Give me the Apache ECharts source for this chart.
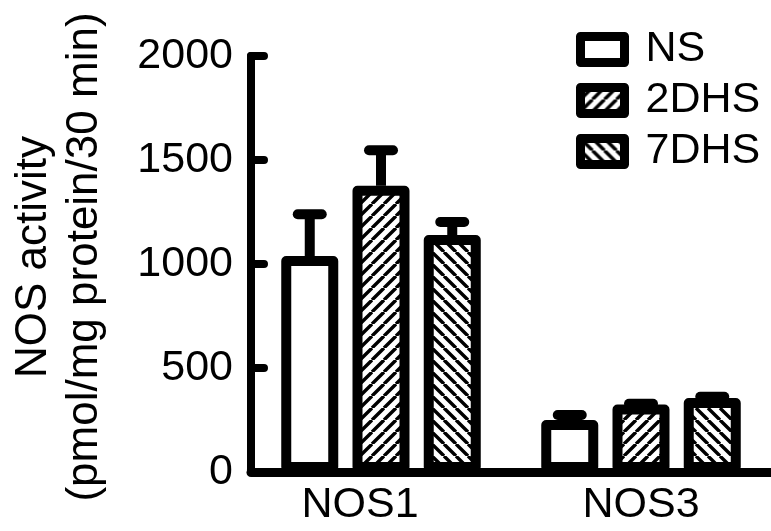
<!DOCTYPE html>
<html>
<head>
<meta charset="utf-8">
<script src="https://cdn.jsdelivr.net/npm/echarts@6/dist/echarts.min.js"></script>
<style>
html, body { margin: 0; padding: 0; background: #fff; }
#chart { width: 771px; height: 531px; }
</style>
</head>
<body>
<div id="chart"></div>
<script>
// data
const categories = ['NOS1', 'NOS3'];
const groups = ['NS', '2DHS', '7DHS'];
const nsMean = [1038, 250];
const nsErr = [201, 24];
const dhs2Mean = [1376, 324];
const dhs2Err = [171, 4];
const dhs7Mean = [1139, 356];
const dhs7Err = [63, 6];
const yTicks = [0, 500, 1000, 1500, 2000];
const yTitle = ['NOS activity', '(pmol/mg protein/30 min)'];

const FONT = 'Liberation Sans';
const BAR_W = 57;
const BAR_GAP = 0.25;
const BORDER = 10;

// hatch tile, dir 1 = "/", dir -1 = "\"
function stripes(dir) {
  const s = 12;
  const c = document.createElement('canvas');
  c.width = s;
  c.height = s;
  const g = c.getContext('2d');
  g.fillStyle = '#fff';
  g.fillRect(0, 0, s, s);
  g.strokeStyle = '#000';
  g.lineWidth = 3.4;
  g.beginPath();
  for (const o of [-s, 0, s]) {
    if (dir > 0) {
      g.moveTo(o, s);
      g.lineTo(o + s, 0);
    } else {
      g.moveTo(o, 0);
      g.lineTo(o + s, s);
    }
  }
  g.stroke();
  return { image: c, repeat: 'repeat' };
}

const fills = ['#fff', stripes(1), stripes(-1)];
const means = [nsMean, dhs2Mean, dhs7Mean];
const errs = [nsErr, dhs2Err, dhs7Err];

const barSeries = groups.map((name, i) => ({
  name: name,
  type: 'bar',
  barWidth: BAR_W,
  barGap: (BAR_GAP * 100) + '%',
  data: means[i],
  itemStyle: {
    color: fills[i],
    borderColor: '#000',
    borderWidth: BORDER,
    borderJoin: 'round'
  },
  emphasis: { disabled: true },
  z: 3
}));

const errSeries = groups.map((name, i) => ({
  type: 'custom',
  data: categories.map((c, k) => [k, means[i][k], errs[i][k]]),
  renderItem(params, api) {
    const base = api.coord([api.value(0), api.value(1)]);
    const top = api.coord([api.value(0), api.value(1) + api.value(2)]);
    const x = base[0] + (i - 1) * BAR_W * (1 + BAR_GAP);
    return {
      type: 'group',
      children: [
        { type: 'line', shape: { x1: x, y1: base[1], x2: x, y2: top[1] },
          style: { stroke: '#000', lineWidth: 10 } },
        { type: 'line', shape: { x1: x - 12, y1: top[1], x2: x + 12, y2: top[1] },
          style: { stroke: '#000', lineWidth: 10, lineCap: 'round' } }
      ]
    };
  },
  z: 2,
  silent: true
}));

const chart = echarts.init(document.getElementById('chart'));
chart.setOption({
  animation: false,
  backgroundColor: '#fff',
  grid: { left: 251, right: 0, top: 56, bottom: 59 },
  graphic: yTitle.map((t, k) => ({
    type: 'text',
    x: 34 + k * 51,
    y: 257,
    rotation: Math.PI / 2,
    style: {
      text: t,
      fontFamily: FONT,
      fontSize: 44,
      fill: '#000',
      align: 'center',
      verticalAlign: 'middle'
    }
  })),
  legend: {
    orient: 'vertical',
    left: 576,
    top: 28,
    padding: 0,
    itemWidth: 44,
    itemHeight: 26,
    itemGap: 8,
    icon: 'rect',
    selectedMode: false,
    data: groups,
    itemStyle: { borderWidth: 9, borderColor: '#000' },
    textStyle: { fontFamily: FONT, fontSize: 43, color: '#000', padding: [0, 0, 0, 16] }
  },
  xAxis: {
    type: 'category',
    data: categories,
    axisLine: { lineStyle: { color: '#000', width: 9 } },
    axisTick: { show: false },
    axisLabel: {
      fontFamily: FONT, fontSize: 43, color: '#000', margin: 12,
      formatter: (v, i) => i === 0 ? '{s|' + v + '}' : v,
      rich: { s: { fontFamily: FONT, fontSize: 43, color: '#000', padding: [0, 42, 0, 0] } }
    }
  },
  yAxis: {
    type: 'value',
    min: yTicks[0],
    max: yTicks[yTicks.length - 1],
    interval: yTicks[1] - yTicks[0],
    splitLine: { show: false },
    axisLine: { show: true, lineStyle: { color: '#000', width: 8, cap: 'round' } },
    axisTick: { show: true, inside: true, length: 13, lineStyle: { color: '#000', width: 8, cap: 'round' } },
    axisLabel: { fontFamily: FONT, fontSize: 43, color: '#000', margin: 18, formatter: v => String(v) }
  },
  series: barSeries.concat(errSeries)
});
</script>
</body>
</html>
